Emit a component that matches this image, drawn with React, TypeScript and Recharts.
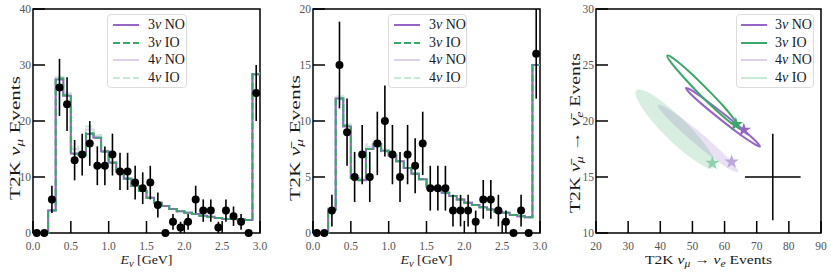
import React from 'react';
import { ComposedChart, ScatterChart, Line, Scatter, XAxis, YAxis, ZAxis, ErrorBar, ReferenceArea, Label } from 'recharts';

const PURPLE = '#9565c8';
const GREEN = '#3aa86b';
const PURPLE_LIGHT = '#ddd1ee';
const GREEN_LIGHT = '#c8ebd8';
const STAR_PURPLE_LIGHT = '#bea5df';
const STAR_GREEN_LIGHT = '#8dd2ac';
const TICK_GRAY = '#555555';
const FONT = '"Liberation Serif", "DejaVu Serif", serif';

// ---------- energy binning ----------
const binEdges = [0.0, 0.1, 0.2, 0.3, 0.4, 0.5, 0.6, 0.7, 0.8, 0.9, 1.0, 1.1, 1.2, 1.3, 1.4, 1.5, 1.6, 1.7, 1.8, 1.9, 2.0, 2.1, 2.2, 2.3, 2.4, 2.5, 2.6, 2.7, 2.8, 2.9, 3.0];
const binCenters = [0.05, 0.15, 0.25, 0.35, 0.45, 0.55, 0.65, 0.75, 0.85, 0.95, 1.05, 1.15, 1.25, 1.35, 1.45, 1.55, 1.65, 1.75, 1.85, 1.95, 2.05, 2.15, 2.25, 2.35, 2.45, 2.55, 2.65, 2.75, 2.85, 2.95];
const energyTicks = [0, 0.5, 1.0, 1.5, 2.0, 2.5, 3.0];

// ---------- panel 1: T2K nu_mu ----------
const numuObserved = [0, 0, 6, 26, 23, 13, 14, 16, 12, 12, 14, 11, 11, 9, 8, 9, 5, 0, 2, 1, 2, 6, 4, 4, 1, 4, 3, 2, 0, 25];
const numuErrors = [0, 0, 2.45, 5.1, 4.8, 3.6, 3.74, 4.0, 3.46, 3.46, 3.74, 3.32, 3.32, 3.0, 2.83, 3.0, 2.24, 0, 1.41, 1.0, 1.41, 2.45, 2.0, 2.0, 1.0, 2.0, 1.73, 1.41, 0, 5.0];
const numu3NO = [0, 0, 4.0, 27.4, 24.5, 14.2, 14.0, 17.7, 17.0, 14.6, 12.6, 11.0, 9.7, 8.4, 7.5, 6.3, 5.4, 4.8, 4.3, 3.9, 3.6, 3.4, 3.1, 2.9, 2.7, 2.5, 2.5, 2.4, 2.3, 28.3];
const numu3IO = [0, 0, 4.0, 27.6, 24.6, 14.1, 13.9, 17.8, 17.0, 14.5, 12.5, 11.0, 9.7, 8.4, 7.5, 6.3, 5.4, 4.8, 4.3, 3.9, 3.6, 3.4, 3.1, 2.9, 2.7, 2.5, 2.5, 2.4, 2.3, 28.4];
const numu4NO = [0, 0, 4.1, 27.8, 24.9, 15.0, 14.3, 18.5, 17.3, 14.6, 12.6, 11.0, 9.7, 8.4, 7.5, 6.3, 5.4, 4.8, 4.3, 3.9, 3.6, 3.4, 3.1, 2.9, 2.7, 2.5, 2.5, 2.4, 2.3, 28.4];
const numu4IO = [0, 0, 4.1, 27.9, 25.1, 15.4, 14.4, 19.0, 17.5, 14.7, 12.7, 11.1, 9.8, 8.5, 7.5, 6.3, 5.4, 4.8, 4.3, 3.9, 3.6, 3.4, 3.1, 2.9, 2.7, 2.5, 2.5, 2.4, 2.3, 28.5];
const numuTicks = [0, 10, 20, 30, 40];

// ---------- panel 2: T2K anti-nu_mu ----------
const numubarObserved = [0, 0, 2, 15, 9, 5, 7, 5, 8, 10, 7, 5, 7, 6, 8, 4, 4, 4, 2, 2, 2, 1, 3, 3, 2, 1, 0, 2, 0, 16];
const numubarErrors = [0, 0, 1.41, 3.87, 3.0, 2.24, 2.65, 2.24, 2.83, 3.16, 2.65, 2.24, 2.65, 2.45, 2.83, 2.0, 2.0, 2.0, 1.41, 1.41, 1.41, 1.0, 1.73, 1.73, 1.41, 1.0, 0, 1.41, 0, 4.0];
const numubar3NO = [0, 0, 2.1, 12.0, 9.5, 4.9, 4.7, 7.5, 7.95, 7.35, 6.9, 6.4, 5.8, 5.3, 4.8, 4.1, 3.9, 3.6, 3.3, 3.0, 2.7, 2.5, 2.3, 2.1, 1.9, 1.8, 1.6, 1.5, 1.4, 15.0];
const numubar3IO = [0, 0, 2.1, 12.0, 9.6, 4.9, 4.7, 7.5, 7.9, 7.3, 6.9, 6.4, 5.8, 5.3, 4.8, 4.1, 3.9, 3.6, 3.3, 3.0, 2.7, 2.5, 2.3, 2.1, 1.9, 1.8, 1.6, 1.5, 1.4, 15.0];
const numubar4NO = [0, 0, 2.2, 12.1, 9.6, 5.0, 4.8, 7.7, 8.05, 7.4, 6.9, 6.4, 5.8, 5.3, 4.8, 4.1, 3.9, 3.6, 3.3, 3.0, 2.7, 2.5, 2.3, 2.1, 1.9, 1.8, 1.6, 1.5, 1.4, 15.0];
const numubar4IO = [0, 0, 2.2, 12.2, 9.7, 5.1, 4.9, 7.9, 8.15, 7.45, 7.0, 6.4, 5.8, 5.3, 4.8, 4.1, 3.9, 3.6, 3.3, 3.0, 2.7, 2.5, 2.3, 2.1, 1.9, 1.8, 1.6, 1.5, 1.4, 15.0];
const numubarTicks = [0, 5, 10, 15, 20];

// ---------- panel 3: appearance events ----------
const appXTicks = [20, 30, 40, 50, 60, 70, 80, 90];
const appYTicks = [10, 15, 20, 25, 30];
const contour3NO: [number, number][] = [[71.0, 17.71], [69.8, 18.17], [65.8, 19.21], [60.1, 20.55], [54.3, 21.83], [49.9, 22.71], [48.0, 22.95], [49.2, 22.48], [53.2, 21.44], [58.9, 20.1], [64.7, 18.82], [69.2, 17.95]];
const contour3IO: [number, number][] = [[64.2, 19.5], [63.2, 20.07], [59.6, 21.34], [54.2, 22.96], [48.6, 24.51], [44.2, 25.56], [42.2, 25.85], [43.2, 25.28], [46.9, 24.02], [52.2, 22.39], [57.8, 20.85], [62.2, 19.79]];
const contour4NO: [number, number][] = [[64.2, 15.45], [63.1, 16.05], [59.0, 17.29], [53.0, 18.85], [46.6, 20.29], [41.6, 21.23], [39.3, 21.43], [40.4, 20.82], [44.5, 19.58], [50.6, 18.03], [56.9, 16.59], [61.9, 15.64]];
const contour4IO: [number, number][] = [[56.9, 15.84], [56.6, 16.68], [53.1, 18.22], [47.3, 20.04], [40.9, 21.67], [35.5, 22.65], [32.5, 22.73], [32.9, 21.89], [36.4, 20.35], [42.1, 18.53], [48.6, 16.9], [54.0, 15.92]];
const bestFit3NO = [{ x: 66.0, y: 19.2 }];
const bestFit3IO = [{ x: 63.5, y: 19.7 }];
const bestFit4NO = [{ x: 62.2, y: 16.35 }];
const bestFit4IO = [{ x: 56.2, y: 16.25 }];
const appObserved = [{ x: 75, y: 15, ex: 8.66, ey: 3.87 }];

const legendNames = ['3ν NO', '3ν IO', '4ν NO', '4ν IO'];

// ---------- helpers ----------
const histRows = (a: number[], b: number[], c: number[], d: number[]) =>
  binEdges.map((x, i) => {
    const k = Math.min(i, a.length - 1);
    return { x, no3: a[k], io3: b[k], no4: c[k], io4: d[k] };
  });
const pointRows = (obs: number[], err: number[]) => binCenters.map((x, i) => ({ x, y: obs[i], err: err[i] }));
const contourRows = (c: [number, number][]) => c.map(([x, y]) => ({ x, y }));

const TICK_LEN = 12;
const Y_MARGIN = 2;
const X_MARGIN = 7;

const makeYTick = (fmt: (v: number) => string) => (props: any) => {
  const { x, y, payload } = props;
  const ax = x + Y_MARGIN;
  return (
    <g>
      <line x1={ax} x2={ax + TICK_LEN} y1={y} y2={y} stroke="#000" strokeWidth={1.5} />
      <text x={x} y={y + 3.5} textAnchor="end" fill={TICK_GRAY} fontSize={11.5} fontFamily={FONT}>{fmt(payload.value)}</text>
    </g>
  );
};
const makeXTick = (fmt: (v: number) => string) => (props: any) => {
  const { x, y, payload } = props;
  const ay = y - X_MARGIN;
  return (
    <g>
      <line x1={x} x2={x} y1={ay} y2={ay - TICK_LEN} stroke="#000" strokeWidth={1.5} />
      <text x={x} y={ay + 16.5} textAnchor="middle" fill={TICK_GRAY} fontSize={11.5} fontFamily={FONT}>{fmt(payload.value)}</text>
    </g>
  );
};

const xTitle = (content: React.ReactNode, length: number) => (props: any) => {
  const vb = props.viewBox || { x: 0, y: 0, width: 0, height: 0 };
  return (
    <text x={vb.x + vb.width / 2} y={vb.y + 31} textAnchor="middle" fontFamily={FONT} fontSize={13.5} fill="#1a1a1a" textLength={length} lengthAdjust="spacingAndGlyphs">
      {content}
    </text>
  );
};
const yTitle = (content: React.ReactNode, length: number, centerY: number) => (props: any) => {
  const vb = props.viewBox || { x: 0, y: 0, width: 0, height: 0 };
  const cx = vb.x + 15;
  const cy = centerY;
  return (
    <text x={cx} y={cy + 5} transform={`rotate(-90 ${cx} ${cy})`} textAnchor="middle" fontFamily={FONT} fontSize={14} fill="#1a1a1a" textLength={length} lengthAdjust="spacingAndGlyphs">
      {content}
    </text>
  );
};

const nu = (bar: boolean, sub: string) => [
  <tspan key="n" fontStyle="italic">{bar ? 'ν\u0304' : 'ν'}</tspan>,
  <tspan key="s" fontStyle="italic" fontSize={10} dy={3}>{sub}</tspan>,
  <tspan key="r" dy={-3}>{'\u00a0'}</tspan>,
];

const closedSpline = (pts: { x: number; y: number }[]) => {
  const n = pts.length;
  if (!n) return '';
  let d = `M${pts[0].x},${pts[0].y}`;
  for (let i = 0; i < n; i++) {
    const p0 = pts[(i - 1 + n) % n], p1 = pts[i], p2 = pts[(i + 1) % n], p3 = pts[(i + 2) % n];
    const c1x = p1.x + (p2.x - p0.x) / 6, c1y = p1.y + (p2.y - p0.y) / 6;
    const c2x = p2.x - (p3.x - p1.x) / 6, c2y = p2.y - (p3.y - p1.y) / 6;
    d += `C${c1x},${c1y} ${c2x},${c2y} ${p2.x},${p2.y}`;
  }
  return d + 'Z';
};
const filledContour = (color: string, opacity: number) => (props: any) => (
  <path d={closedSpline(props.points || [])} fill={color} fillOpacity={opacity} stroke="none" />
);
const outlineContour = (color: string) => (props: any) => (
  <path d={closedSpline(props.points || [])} fill="none" stroke={color} strokeWidth={2} />
);
const NoShape = () => <g />;

const renderName = (name: string) => {
  const i = name.indexOf('ν');
  return (
    <span>
      {name.slice(0, i)}<i>ν</i>{name.slice(i + 1).replace(' ', '\u00a0')}
    </span>
  );
};

type LegendStyle = { color: string; dash?: string };
const LegendBox = ({ left, width, styles, sampleX, textX }: { left: number; width: number; styles: LegendStyle[]; sampleX: number; textX: number }) => (
  <div style={{ position: 'absolute', left, top: 14, width, height: 74, border: '1px solid #dcdcdc', borderRadius: 4, background: 'rgba(255,255,255,0.85)', boxSizing: 'border-box', fontFamily: FONT, fontSize: 14, color: '#1a1a1a' }}>
    {legendNames.map((name, i) => {
      const cy = 10 + i * 17.7;
      return (
        <React.Fragment key={name}>
          <svg style={{ position: 'absolute', left: sampleX, top: cy - 3 }} width={26} height={6}>
            <line x1={0} x2={26} y1={3} y2={3} stroke={styles[i].color} strokeWidth={2} strokeDasharray={styles[i].dash} />
          </svg>
          <div style={{ position: 'absolute', left: textX, top: cy - 8, height: 16, lineHeight: '16px', whiteSpace: 'nowrap' }}>{renderName(name)}</div>
        </React.Fragment>
      );
    })}
  </div>
);

const DASH = '7 3';

const SpectrumPanel = ({ left, rows, points, yMax, yTicks, yTitleNode, yTitleLen }: any) => (
  <div style={{ position: 'absolute', left, top: 0 }}>
    <ComposedChart width={270} height={272} data={rows} margin={{ top: 9, right: 10, bottom: 0, left: 0 }}>
      <XAxis type="number" dataKey="x" domain={[0, 3]} ticks={energyTicks} allowDecimals interval={0} height={39} tickSize={0} tickMargin={X_MARGIN} axisLine={false} tickLine={false} tick={makeXTick((v) => v.toFixed(1))}>
        <Label content={xTitle([<tspan key="e" fontStyle="italic">E</tspan>, <tspan key="n" fontStyle="italic" fontSize={10} dy={3}>ν</tspan>, <tspan key="g" dy={-3}>{'\u00a0[GeV]'}</tspan>], 52)} />
      </XAxis>
      <YAxis type="number" domain={[0, yMax]} ticks={yTicks} interval={0} width={33} tickSize={0} tickMargin={Y_MARGIN} axisLine={false} tickLine={false} tick={makeYTick((v) => String(v))}>
        <Label content={yTitle(yTitleNode, yTitleLen, 138)} />
      </YAxis>
      <ZAxis range={[50, 50]} />
      <Line type="stepAfter" dataKey="no4" stroke={PURPLE_LIGHT} strokeWidth={2} dot={false} activeDot={false} isAnimationActive={false} />
      <Line type="stepAfter" dataKey="io4" stroke={GREEN_LIGHT} strokeWidth={2} strokeDasharray={DASH} dot={false} activeDot={false} isAnimationActive={false} />
      <Line type="stepAfter" dataKey="no3" stroke={PURPLE} strokeWidth={2} dot={false} activeDot={false} isAnimationActive={false} />
      <Line type="stepAfter" dataKey="io3" stroke={GREEN} strokeWidth={2} strokeDasharray={DASH} dot={false} activeDot={false} isAnimationActive={false} />
      <Scatter data={points} dataKey="y" fill="#000" shape="circle" isAnimationActive={false}>
        <ErrorBar dataKey="err" direction="y" width={0} stroke="#000" strokeWidth={1.6} />
      </Scatter>
      <ReferenceArea x1={0} x2={3} y1={0} y2={yMax} fill="none" fillOpacity={0} stroke="#000" strokeWidth={1.5} />
    </ComposedChart>
  </div>
);

const histLegend: LegendStyle[] = [
  { color: PURPLE },
  { color: GREEN, dash: DASH },
  { color: PURPLE_LIGHT },
  { color: GREEN_LIGHT, dash: DASH },
];
const appLegend: LegendStyle[] = [{ color: PURPLE }, { color: GREEN }, { color: PURPLE_LIGHT }, { color: GREEN_LIGHT }];

export default function App() {
  const rows1 = histRows(numu3NO, numu3IO, numu4NO, numu4IO);
  const rows2 = histRows(numubar3NO, numubar3IO, numubar4NO, numubar4IO);
  const pts1 = pointRows(numuObserved, numuErrors);
  const pts2 = pointRows(numubarObserved, numubarErrors);

  return (
    <div style={{ position: 'absolute', left: 0, top: 0, width: 831, height: 272, background: '#fff', overflow: 'hidden' }}>
      <SpectrumPanel left={0} rows={rows1} points={pts1} yMax={40} yTicks={numuTicks} yTitleLen={124}
        yTitleNode={['T2K\u00a0', ...nu(false, 'μ'), 'Events']} />
      <SpectrumPanel left={280} rows={rows2} points={pts2} yMax={20} yTicks={numubarTicks} yTitleLen={126}
        yTitleNode={['T2K\u00a0', ...nu(true, 'μ'), 'Events']} />

      <div style={{ position: 'absolute', left: 560, top: 0 }}>
        <ScatterChart width={271} height={272} margin={{ top: 9, right: 10, bottom: 0, left: 0 }}>
          <XAxis type="number" dataKey="x" domain={[20, 90]} ticks={appXTicks} interval={0} height={39} tickSize={0} tickMargin={X_MARGIN} axisLine={false} tickLine={false} tick={makeXTick((v) => String(v))}>
            <Label content={xTitle(['T2K\u00a0', ...nu(false, 'μ').slice(0, 2), <tspan key="a" dy={-3}>{'\u00a0→\u00a0'}</tspan>, <tspan key="n2" fontStyle="italic">ν</tspan>, <tspan key="s2" fontStyle="italic" fontSize={10} dy={3}>e</tspan>, <tspan key="r2" dy={-3}>{'\u00a0Events'}</tspan>], 127)} />
          </XAxis>
          <YAxis type="number" dataKey="y" domain={[10, 30]} ticks={appYTicks} interval={0} width={36} tickSize={0} tickMargin={Y_MARGIN} axisLine={false} tickLine={false} tick={makeYTick((v) => String(v))}>
            <Label content={yTitle(['T2K\u00a0', ...nu(true, 'μ').slice(0, 2), <tspan key="a" dy={-3}>{'\u00a0→\u00a0'}</tspan>, <tspan key="n2" fontStyle="italic">{'ν\u0304'}</tspan>, <tspan key="s2" fontStyle="italic" fontSize={10} dy={3}>e</tspan>, <tspan key="r2" dy={-3}>{'\u00a0Events'}</tspan>], 160, 133)} />
          </YAxis>
          <ZAxis range={[30, 30]} />
          <Scatter data={contourRows(contour4NO)} fill={PURPLE} shape={NoShape} line={filledContour(PURPLE, 0.2)} isAnimationActive={false} />
          <Scatter data={contourRows(contour4IO)} fill={GREEN} shape={NoShape} line={filledContour(GREEN, 0.2)} isAnimationActive={false} />
          <Scatter data={contourRows(contour3NO)} fill={PURPLE} shape={NoShape} line={outlineContour(PURPLE)} isAnimationActive={false} />
          <Scatter data={contourRows(contour3IO)} fill={GREEN} shape={NoShape} line={outlineContour(GREEN)} isAnimationActive={false} />
          <Scatter data={appObserved} fill="#000" shape={NoShape} isAnimationActive={false}>
            <ErrorBar dataKey="ex" direction="x" width={0} stroke="#000" strokeWidth={1.5} />
            <ErrorBar dataKey="ey" direction="y" width={0} stroke="#000" strokeWidth={1.5} />
          </Scatter>
          <Scatter data={bestFit4IO} fill={STAR_GREEN_LIGHT} shape="star" isAnimationActive={false} />
          <Scatter data={bestFit4NO} fill={STAR_PURPLE_LIGHT} shape="star" isAnimationActive={false} />
          <Scatter data={bestFit3NO} fill={PURPLE} shape="star" isAnimationActive={false} />
          <Scatter data={bestFit3IO} fill={GREEN} shape="star" isAnimationActive={false} />
          <ReferenceArea x1={20} x2={90} y1={10} y2={30} fill="none" fillOpacity={0} stroke="#000" strokeWidth={1.5} />
        </ScatterChart>
      </div>

      <LegendBox left={107} width={80} styles={histLegend} sampleX={5} textX={40} />
      <LegendBox left={388} width={79} styles={histLegend} sampleX={5} textX={40} />
      <LegendBox left={736} width={78} styles={appLegend} sampleX={4} textX={38} />
    </div>
  );
}
